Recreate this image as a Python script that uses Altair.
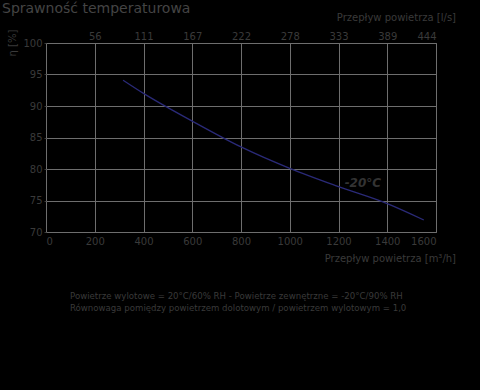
import altair as alt
import pandas as pd

flow = [316, 400, 600, 800, 1000, 1200, 1400, 1550]
eff = [94.1, 92.0, 87.6, 83.5, 80.1, 77.2, 74.5, 71.9]

x_ticks = [0, 200, 400, 600, 800, 1000, 1200, 1400, 1600]
y_ticks = [70, 75, 80, 85, 90, 95, 100]

df = pd.DataFrame({"flow": flow, "eff": eff})

TXT = "#3a3a3a"
GRID = "#6e6e6e"
FONT = "DejaVu Sans"

xscale = alt.Scale(domain=[0, 1600], nice=False, zero=False)
yscale = alt.Scale(domain=[70, 100], nice=False, zero=False)

yaxis = alt.Axis(values=y_ticks, title=None, grid=True, gridColor=GRID,
                 domain=False, ticks=True, tickColor=TXT, tickSize=2, format="d",
                 labelColor=TXT, labelFont=FONT, labelFontSize=10, labelPadding=2)

base = alt.Chart(df)

line = base.mark_line(color="#2a2a78", strokeWidth=1.3, interpolate="monotone").encode(
    x=alt.X("flow:Q", scale=xscale,
            axis=alt.Axis(values=x_ticks, title=None, grid=True, gridColor=GRID, format="d",
                          domain=False, ticks=False, labelColor=TXT, labelFont=FONT,
                          labelFontSize=10, labelPadding=4)),
    y=alt.Y("eff:Q", scale=yscale, axis=yaxis),
)

top = base.mark_point(opacity=0).encode(
    x=alt.X("flow:Q", scale=xscale,
            axis=alt.Axis(orient="top", values=x_ticks[1:], title=None, grid=False,
                          domain=False, ticks=False, labelColor=TXT, labelFont=FONT,
                          labelFontSize=10, labelPadding=2,
                          labelExpr="format(round(datum.value / 3.6), 'd')")),
    y=alt.Y("eff:Q", scale=yscale, axis=yaxis),
)

label_df = pd.DataFrame({"flow": [1300], "eff": [77.8], "t": ["-20°C"]})
curve_label = alt.Chart(label_df).mark_text(
    color="#333333", font=FONT, fontSize=12, fontWeight="bold", fontStyle="italic"
).encode(x=alt.X("flow:Q", scale=xscale, axis=None),
         y=alt.Y("eff:Q", scale=yscale, axis=yaxis), text="t:N")

def txt(s, x, y, size=10, align="left", angle=0, color=TXT):
    d = pd.DataFrame({"t": [s]})
    return alt.Chart(d).mark_text(
        color=color, font=FONT, fontSize=size, align=align, baseline="alphabetic", angle=angle
    ).encode(x=alt.value(x), y=alt.value(y), text="t:N")

title = txt("Sprawność temperaturowa", -44, -30, size=14, color="#444444")
top_title = txt("Przepływ powietrza [l/s]", 410, -22, size=10, align="right")
bot_title = txt("Przepływ powietrza [m³/h]", 410, 30 + 189, size=10, align="right")
y_title = txt("η [%]", -30, 0, size=10, align="center", angle=270)
foot1 = txt("Powietrze wylotowe = 20°C/60% RH - Powietrze zewnętrzne = -20°C/90% RH", 24, 256, size=8.6)
foot2 = txt("Równowaga pomiędzy powietrzem dolotowym / powietrzem wylotowym = 1,0", 24, 268, size=8.6)

chart = alt.layer(line, top, curve_label, title, top_title, bot_title, y_title, foot1, foot2).resolve_axis(
    x="independent"
).properties(
    width=390, height=189,
    autosize=alt.AutoSizeParams(type="none"),
    padding={"left": 46, "top": 43, "right": 44, "bottom": 158},
    background="#000000",
).configure_view(stroke=GRID, strokeWidth=1)

chart.save("out.html", embed_options={"renderer": "svg", "actions": False})
